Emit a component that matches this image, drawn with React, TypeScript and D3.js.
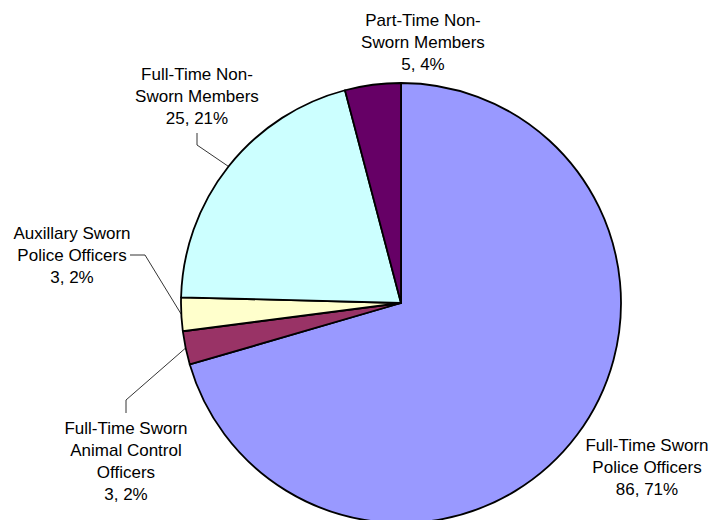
import React from "react";
import * as d3 from "d3";

const categories = [
  "Full-Time Sworn Police Officers",
  "Full-Time Sworn Animal Control Officers",
  "Auxillary Sworn Police Officers",
  "Full-Time Non-Sworn Members",
  "Part-Time Non-Sworn Members",
];
const values = [86, 3, 3, 25, 5];
const percents = [71, 2, 2, 21, 4];
const labelLines = [
  ["Full-Time Sworn", "Police Officers"],
  ["Full-Time Sworn", "Animal Control", "Officers"],
  ["Auxillary Sworn", "Police Officers"],
  ["Full-Time Non-", "Sworn Members"],
  ["Part-Time Non-", "Sworn Members"],
];
const colors = ["#9999FF", "#993366", "#FFFFCC", "#CCFFFF", "#660066"];

const width = 725;
const height = 520;
const cx = 401;
const cy = 303;
const radius = 220;
const lineH = 22;

// where each label sits, and the elbow points of its leader line
const labelLayout: { x: number; y: number; leader: [number, number][] }[] = [
  { x: 647, y: 445, leader: [] },
  { x: 126, y: 428, leader: [[126, 400], [126, 413]] },
  { x: 72, y: 233, leader: [[145, 255], [130, 255]] },
  { x: 197, y: 74, leader: [[197, 145], [197, 133]] },
  { x: 423, y: 20, leader: [] },
];

export default function App() {
  const pie = d3
    .pie<number>()
    .sort(null)
    .value((d) => d)
    .startAngle(0)
    .endAngle(2 * Math.PI);
  const arcs = pie(values);
  const arc = d3.arc<d3.PieArcDatum<number>>().innerRadius(0).outerRadius(radius);
  const edge = d3.arc<d3.PieArcDatum<number>>().innerRadius(radius).outerRadius(radius);
  const line = d3.line();

  return (
    <svg
      width={width}
      height={height}
      style={{ position: "absolute", left: 0, top: 0, background: "#fff" }}
      fontFamily="'Liberation Sans', Arial, sans-serif"
      fontSize={17}
    >
      <g transform={`translate(${cx},${cy})`}>
        {arcs.map((a, i) => (
          <path
            key={categories[i]}
            d={arc(a) || ""}
            fill={colors[i]}
            stroke="#000"
            strokeWidth={1.8}
            strokeLinejoin="round"
          />
        ))}
      </g>
      {arcs.map((a, i) => {
        const lay = labelLayout[i];
        if (!lay.leader.length) return null;
        const [ex, ey] = edge.centroid(a);
        const pts: [number, number][] = [[ex + cx, ey + cy], ...lay.leader];
        return (
          <path
            key={"leader" + i}
            d={line(pts) || ""}
            fill="none"
            stroke="#000"
            strokeWidth={0.8}
          />
        );
      })}
      {categories.map((c, i) => {
        const lay = labelLayout[i];
        const lines = [...labelLines[i], `${values[i]}, ${percents[i]}%`];
        return (
          <text key={"label" + c} textAnchor="middle" fill="#000">
            {lines.map((t, j) => (
              <tspan key={j} x={lay.x} y={lay.y + j * lineH} dy="0.35em">
                {t}
              </tspan>
            ))}
          </text>
        );
      })}
    </svg>
  );
}
